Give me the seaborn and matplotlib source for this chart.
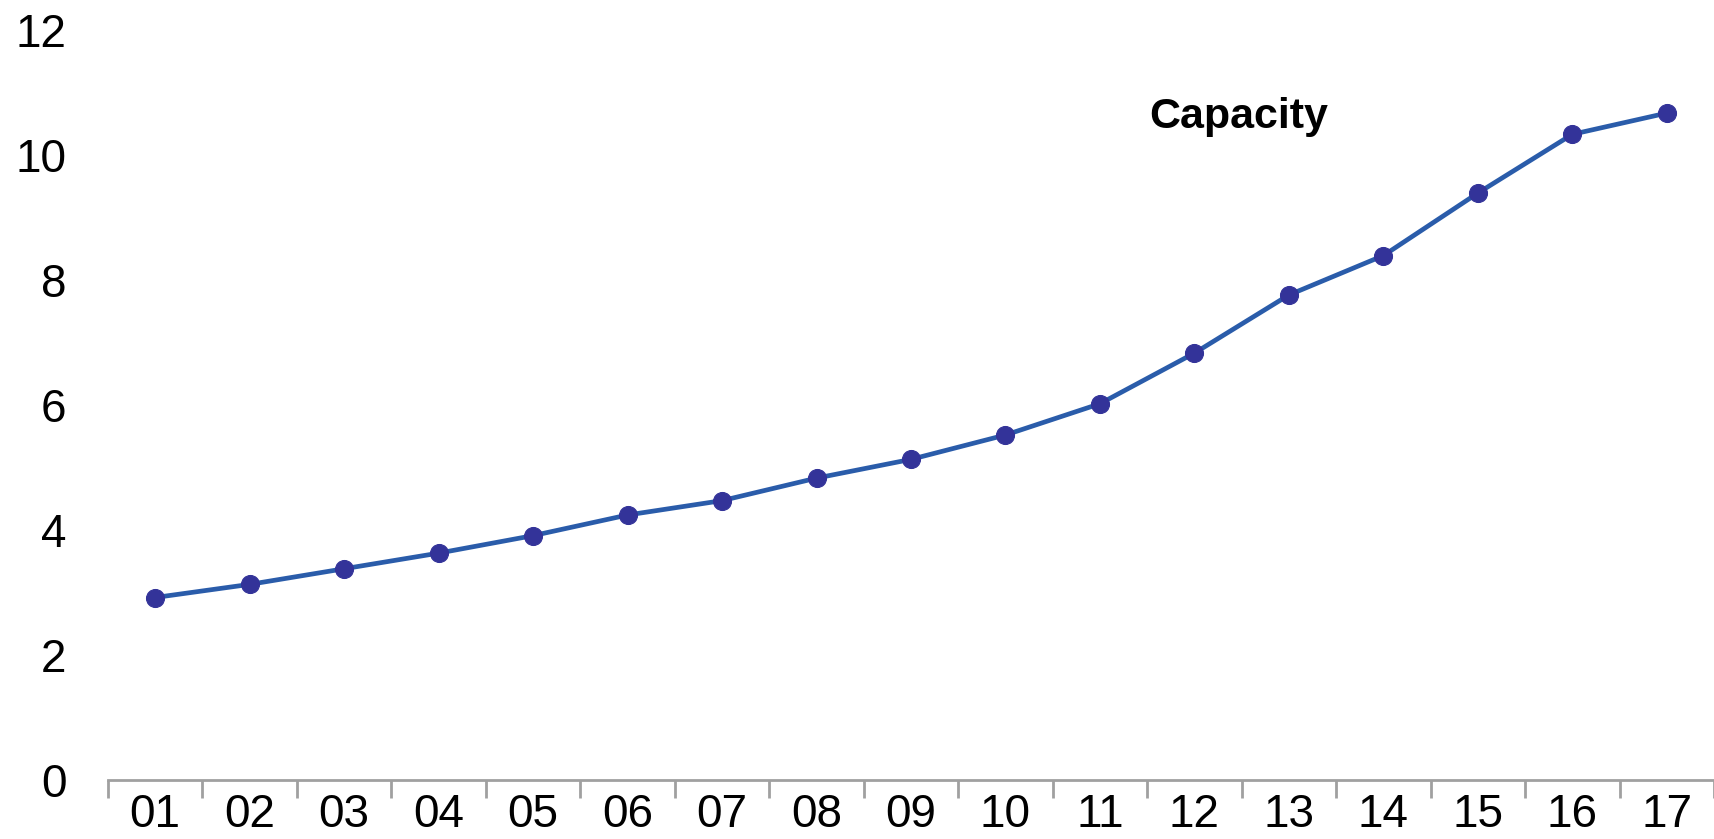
import matplotlib
matplotlib.use("Agg")
import matplotlib.pyplot as plt
import seaborn as sns
import pandas as pd

categories = ["01", "02", "03", "04", "05", "06", "07", "08", "09", "10",
              "11", "12", "13", "14", "15", "16", "17"]
capacity = [2.92, 3.13, 3.38, 3.63, 3.91, 4.24, 4.47, 4.83, 5.13, 5.52,
            6.02, 6.83, 7.76, 8.39, 9.39, 10.33, 10.67]
y_ticks = [0, 2, 4, 6, 8, 10, 12]
series_label = "Capacity"

sns.set_theme(style="white")
plt.rcParams['font.family'] = ['Liberation Sans', 'DejaVu Sans']

df = pd.DataFrame({"period": categories, "capacity": capacity})

fig = plt.figure(figsize=(17.14, 8.39), dpi=100)
ax = fig.add_axes([0.063, 0.0703, 0.937, 0.894])

sns.lineplot(data=df, x="period", y="capacity", ax=ax, color="#2a5caa",
             linewidth=3.4, marker="o", markersize=13,
             markerfacecolor="#333399", markeredgecolor="#333399", sort=False)

ax.set_xlim(-0.5, len(categories) - 0.5)
ax.set_ylim(0, 12)
ax.set_yticks(y_ticks)
ax.set_yticklabels([str(v) for v in y_ticks], fontsize=33, color="black")
ax.set_xticks(range(len(categories)))
ax.set_xticklabels(categories, fontsize=33, color="black")
ax.set_xticks([i - 0.5 for i in range(len(categories) + 1)], minor=True)
ax.tick_params(axis="x", which="major", length=0, pad=9)
ax.tick_params(axis="x", which="minor", length=13, width=2, color="#a0a0a0", bottom=True)
ax.tick_params(axis="y", length=0, pad=30)

for s in ["top", "right", "left"]:
    ax.spines[s].set_visible(False)
ax.spines["bottom"].set_color("#a0a0a0")
ax.spines["bottom"].set_linewidth(2)
ax.set_xlabel("")
ax.set_ylabel("")
ax.grid(False)

ax.text(10.52, 10.43, series_label, fontsize=31, fontweight="bold",
        ha="left", va="baseline", color="black")

fig.savefig("out.png", dpi=100)
